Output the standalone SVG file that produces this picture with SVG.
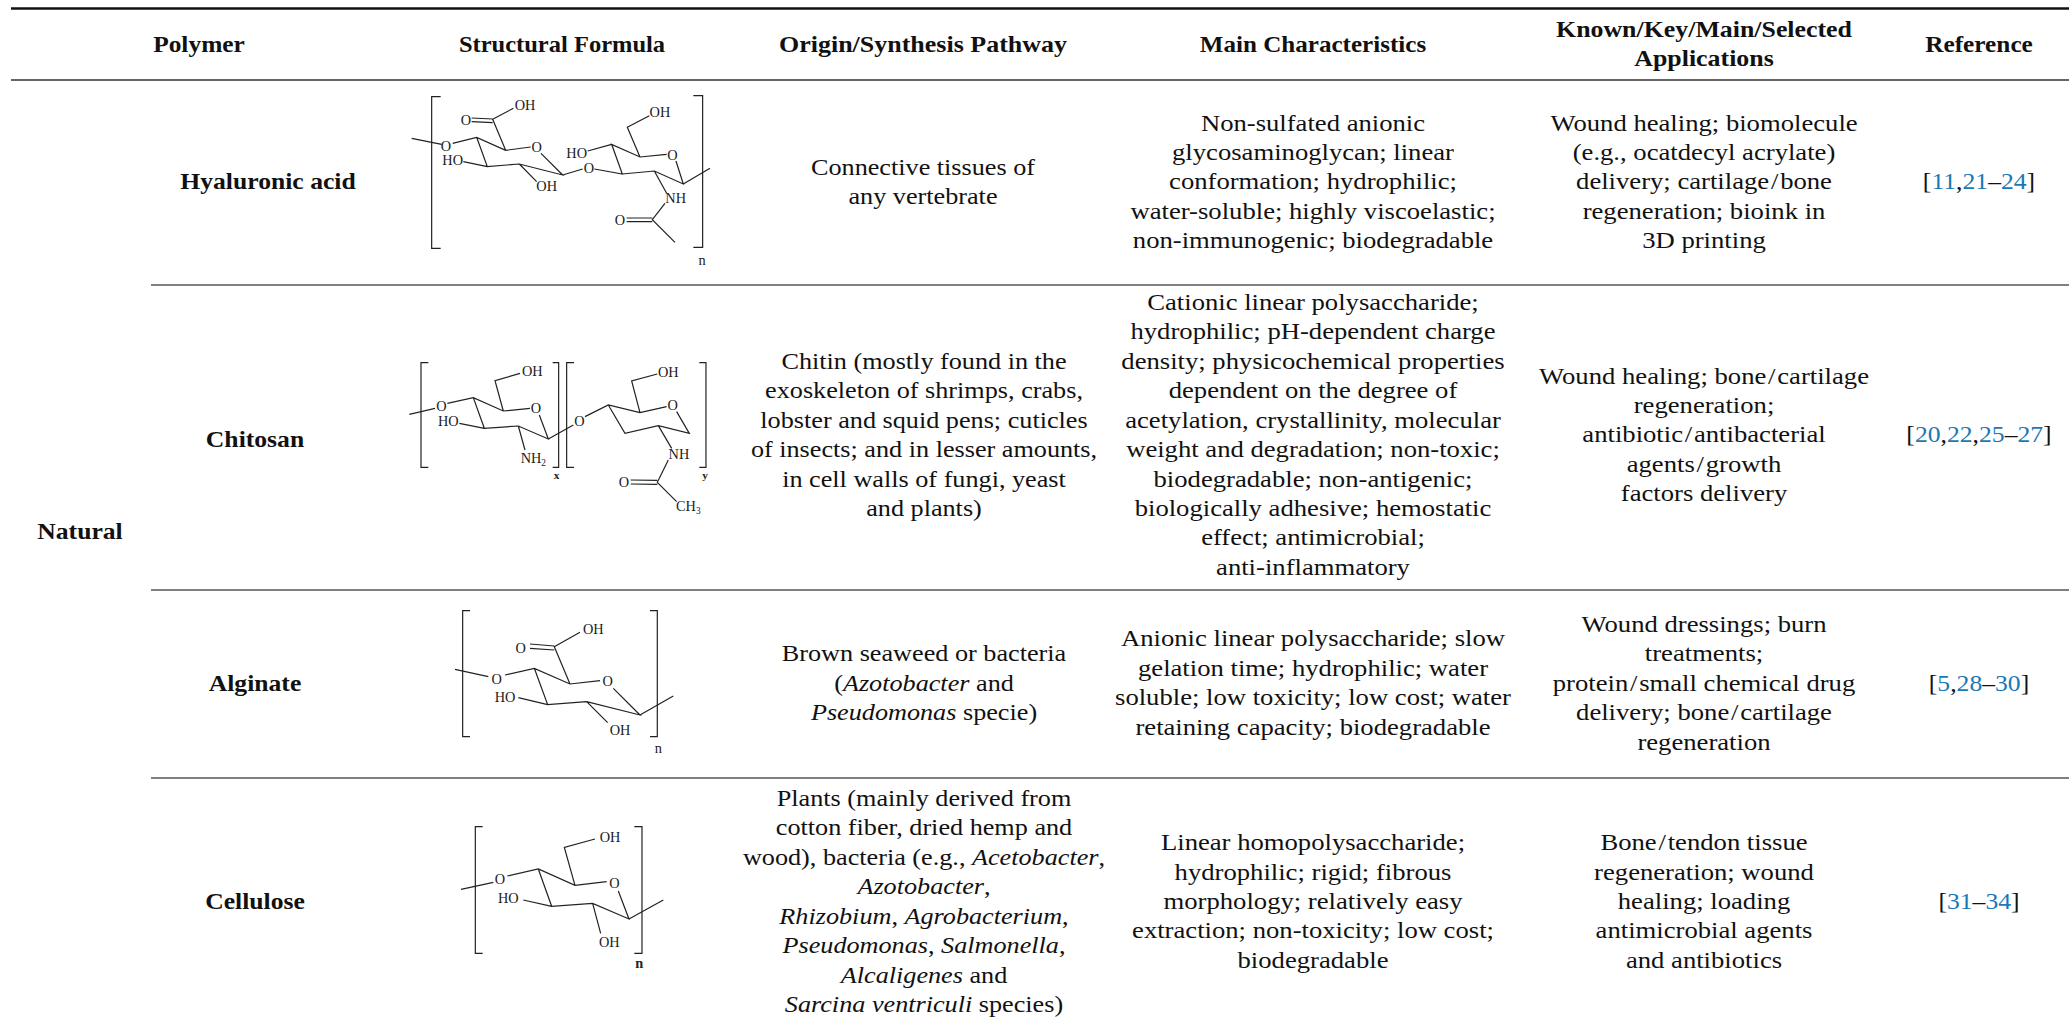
<svg xmlns="http://www.w3.org/2000/svg" width="2069" height="1019" viewBox="0 0 2069 1019">
<style>
text{font-family:"Liberation Serif","Times New Roman",serif;fill:#111}
.c text{font-size:22.5px;text-anchor:middle}
.b text{font-weight:bold}
.r{fill:#1a78b4}
.f path{fill:none;stroke:#222;stroke-width:3.6;stroke-linecap:butt}
.f text{font-size:43px;text-anchor:middle;fill:#222}
.f .s{font-size:28px}
</style>
<rect width="2069" height="1019" fill="#fff"/>
<g id="rules" fill="none">
<path d="M11 8.5H2069" stroke="#111" stroke-width="2.4"/>
<path d="M11 80H2069" stroke="#333" stroke-width="1.4"/>
<path d="M151 285H2069M151 590H2069M151 778H2069" stroke="#808080" stroke-width="1.8"/>
</g>
<g id="header" class="c b">
<g transform="translate(199,0) scale(1.13,1)"><text y="52">Polymer</text></g>
<g transform="translate(562,0) scale(1.09,1)"><text y="52">Structural Formula</text></g>
<g transform="translate(923,0) scale(1.155,1)"><text y="52">Origin/Synthesis Pathway</text></g>
<g transform="translate(1313,0) scale(1.115,1)"><text y="52">Main Characteristics</text></g>
<g transform="translate(1704,0) scale(1.15,1)"><text y="37">Known/Key/Main/Selected</text><text y="66.5">Applications</text></g>
<g transform="translate(1979,0) scale(1.125,1)"><text y="52">Reference</text></g>
</g>
<g id="group-natural" class="c b" transform="translate(80,0) scale(1.14,1)"><text y="539">Natural</text></g>
<g id="row-hyaluronic" class="c">
<g class="b" transform="translate(268,0) scale(1.14,1)"><text y="189">Hyaluronic acid</text></g>
<g transform="translate(923,0) scale(1.165,1)"><text y="175">Connective tissues of</text><text y="204">any vertebrate</text></g>
<g transform="translate(1313,0) scale(1.185,1)"><text y="130.6">Non-sulfated anionic</text><text y="160">glycosaminoglycan; linear</text><text y="189.5">conformation; hydrophilic;</text><text y="219">water-soluble; highly viscoelastic;</text><text y="248.4">non-immunogenic; biodegradable</text></g>
<g transform="translate(1704,0) scale(1.185,1)"><text y="130.6">Wound healing; biomolecule</text><text y="160">(e.g., ocatdecyl acrylate)</text><text y="189.5">delivery; cartilage<tspan dx="1.5">/</tspan><tspan dx="1.5">bone</tspan></text><text y="219">regeneration; bioink in</text><text y="248.4">3D printing</text></g>
<g transform="translate(1979,0) scale(1.14,1)"><text y="189">[<tspan class="r">11</tspan>,<tspan class="r">21</tspan>–<tspan class="r">24</tspan>]</text></g>
</g>
<g id="row-chitosan" class="c">
<g class="b" transform="translate(255,0) scale(1.14,1)"><text y="447">Chitosan</text></g>
<g transform="translate(924,0) scale(1.165,1)"><text y="368.9">Chitin (mostly found in the</text><text y="398.3">exoskeleton of shrimps, crabs,</text><text y="427.8">lobster and squid pens; cuticles</text><text y="457.2">of insects; and in lesser amounts,</text><text y="486.6">in cell walls of fungi, yeast</text><text y="516.1">and plants)</text></g>
<g transform="translate(1313,0) scale(1.185,1)"><text y="310">Cationic linear polysaccharide;</text><text y="339.4">hydrophilic; pH-dependent charge</text><text y="368.9">density; physicochemical properties</text><text y="398.3">dependent on the degree of</text><text y="427.8">acetylation, crystallinity, molecular</text><text y="457.2">weight and degradation; non-toxic;</text><text y="486.6">biodegradable; non-antigenic;</text><text y="516.1">biologically adhesive; hemostatic</text><text y="545.5">effect; antimicrobial;</text><text y="575">anti-inflammatory</text></g>
<g transform="translate(1704,0) scale(1.185,1)"><text y="383.6">Wound healing; bone<tspan dx="1.5">/</tspan><tspan dx="1.5">cartilage</tspan></text><text y="413">regeneration;</text><text y="442.5">antibiotic<tspan dx="1.5">/</tspan><tspan dx="1.5">antibacterial</tspan></text><text y="472">agents<tspan dx="1.5">/</tspan><tspan dx="1.5">growth</tspan></text><text y="501.4">factors delivery</text></g>
<g transform="translate(1979,0) scale(1.14,1)"><text y="442.5">[<tspan class="r">20</tspan>,<tspan class="r">22</tspan>,<tspan class="r">25</tspan>–<tspan class="r">27</tspan>]</text></g>
</g>
<g id="row-alginate" class="c">
<g class="b" transform="translate(255,0) scale(1.14,1)"><text y="690.7">Alginate</text></g>
<g transform="translate(924,0) scale(1.165,1)"><text y="661.2">Brown seaweed or bacteria</text><text y="690.7">(<tspan font-style="italic">Azotobacter</tspan> and</text><text y="720.2"><tspan font-style="italic">Pseudomonas</tspan> specie)</text></g>
<g transform="translate(1313,0) scale(1.185,1)"><text y="646.5">Anionic linear polysaccharide; slow</text><text y="676">gelation time; hydrophilic; water</text><text y="705.4">soluble; low toxicity; low cost; water</text><text y="734.9">retaining capacity; biodegradable</text></g>
<g transform="translate(1704,0) scale(1.185,1)"><text y="631.8">Wound dressings; burn</text><text y="661.2">treatments;</text><text y="690.7">protein<tspan dx="1.5">/</tspan><tspan dx="1.5">small chemical drug</tspan></text><text y="720.2">delivery; bone<tspan dx="1.5">/</tspan><tspan dx="1.5">cartilage</tspan></text><text y="749.6">regeneration</text></g>
<g transform="translate(1979,0) scale(1.14,1)"><text y="690.7">[<tspan class="r">5</tspan>,<tspan class="r">28</tspan>–<tspan class="r">30</tspan>]</text></g>
</g>
<g id="row-cellulose" class="c">
<g class="b" transform="translate(255,0) scale(1.14,1)"><text y="909">Cellulose</text></g>
<g transform="translate(924,0) scale(1.165,1)"><text y="805.9">Plants (mainly derived from</text><text y="835.4">cotton fiber, dried hemp and</text><text y="864.8">wood), bacteria (e.g., <tspan font-style="italic">Acetobacter</tspan>,</text><text y="894.3"><tspan font-style="italic">Azotobacter</tspan>,</text><text y="923.7"><tspan font-style="italic">Rhizobium</tspan>, <tspan font-style="italic">Agrobacterium</tspan>,</text><text y="953.2"><tspan font-style="italic">Pseudomonas</tspan>, <tspan font-style="italic">Salmonella</tspan>,</text><text y="982.6"><tspan font-style="italic">Alcaligenes</tspan> and</text><text y="1012.1"><tspan font-style="italic">Sarcina ventriculi</tspan> species)</text></g>
<g transform="translate(1313,0) scale(1.185,1)"><text y="850.1">Linear homopolysaccharide;</text><text y="879.6">hydrophilic; rigid; fibrous</text><text y="909">morphology; relatively easy</text><text y="938.5">extraction; non-toxicity; low cost;</text><text y="967.9">biodegradable</text></g>
<g transform="translate(1704,0) scale(1.185,1)"><text y="850.1">Bone<tspan dx="1.5">/</tspan><tspan dx="1.5">tendon tissue</tspan></text><text y="879.6">regeneration; wound</text><text y="909">healing; loading</text><text y="938.5">antimicrobial agents</text><text y="967.9">and antibiotics</text></g>
<g transform="translate(1979,0) scale(1.14,1)"><text y="909">[<tspan class="r">31</tspan>–<tspan class="r">34</tspan>]</text></g>
</g>
<g id="formula-hyaluronic" class="f" transform="translate(410,85) scale(.3333)">
<path d="M92 35H65V490H92M850 32H878V487H850"/>
<path d="M5 160L95 178M128 175L200 157L287 196L362 186M393 205L458 270L328 237L232 245L200 157M160 230L232 245M328 237L380 290M287 196L248 103L310 70M185 99L248 102M185 110L248 113M458 270L518 252M553 252L637 267L605 178L690 216L770 208M798 228L820 297L733 258L637 267M533 198L605 178M690 216L652 127L718 92M820 297L900 250M733 258L770 325M765 355L727 404L795 472M650 399L727 399M650 410L727 410"/>
<text x="108" y="197">O</text><text x="128" y="241">HO</text><text x="345" y="74">OH</text><text x="168" y="119">O</text><text x="380" y="202">O</text><text x="410" y="319">OH</text><text x="537" y="264">O</text><text x="500" y="218">HO</text><text x="787" y="224">O</text><text x="750" y="96">OH</text><text x="797" y="354">NH</text><text x="630" y="419">O</text><text x="876" y="540">n</text>
</g>
<g id="formula-chitosan" class="f" transform="translate(400,350) scale(.3333)">
<path d="M85 38H63V352H85M458 38H476V352H458M522 38H500V352H522M898 38H918V352H898"/>
<path d="M28 193L105 175M142 160L220 143L310 183L390 175M418 195L445 267L355 228L253 235L220 143M178 220L253 235M310 183L285 92L360 70M355 228L375 300M445 267L520 225M555 200L625 165L720 188L800 170M830 185L868 250L775 227L675 250L625 165M720 188L695 93L772 72M775 227L815 295M805 330L772 397L830 455M692 390L772 391M692 402L772 403"/>
<text x="124" y="184">O</text><text x="145" y="229">HO</text><text x="397" y="77">OH</text><text x="408" y="190">O</text><text x="400" y="339">NH<tspan class="s" dy="9">2</tspan></text><text x="538" y="228">O</text><text x="818" y="179">O</text><text x="805" y="82">OH</text><text x="837" y="326">NH</text><text x="672" y="412">O</text><text x="865" y="484">CH<tspan class="s" dy="9">3</tspan></text>
<text x="470" y="388" font-weight="bold" style="font-size:34px">x</text><text x="915" y="388" font-weight="bold" style="font-size:34px">y</text>
</g>
<g id="formula-alginate" class="f" transform="translate(450,600) scale(.3333)">
<path d="M60 32H38V410H60M600 32H622V410H600"/>
<path d="M15 208L115 230M165 225L253 205L360 252L450 242M490 265L570 345L410 305L293 314L253 205M205 293L293 314M410 305L473 368M360 252L313 140L390 97M240 132L313 138M240 145L313 150M570 345L670 288"/>
<text x="140" y="252">O</text><text x="165" y="306">HO</text><text x="510" y="404">OH</text><text x="430" y="101">OH</text><text x="212" y="158">O</text><text x="473" y="259">O</text><text x="625" y="460">n</text>
</g>
<g id="formula-cellulose" class="f" transform="translate(450,815) scale(.3333)">
<path d="M98 35H76V415H98M553 35H576V415H553"/>
<path d="M33 223L130 202M172 183L265 162L375 211L470 200M505 228L537 312L428 265L305 274L265 162M220 255L305 274M428 265L452 355M375 211L343 97L435 72M537 312L640 255"/>
<text x="150" y="208">O</text><text x="175" y="265">HO</text><text x="478" y="396">OH</text><text x="480" y="81">OH</text><text x="493" y="218">O</text><text x="568" y="458" font-weight="bold">n</text>
</g>
</svg>
